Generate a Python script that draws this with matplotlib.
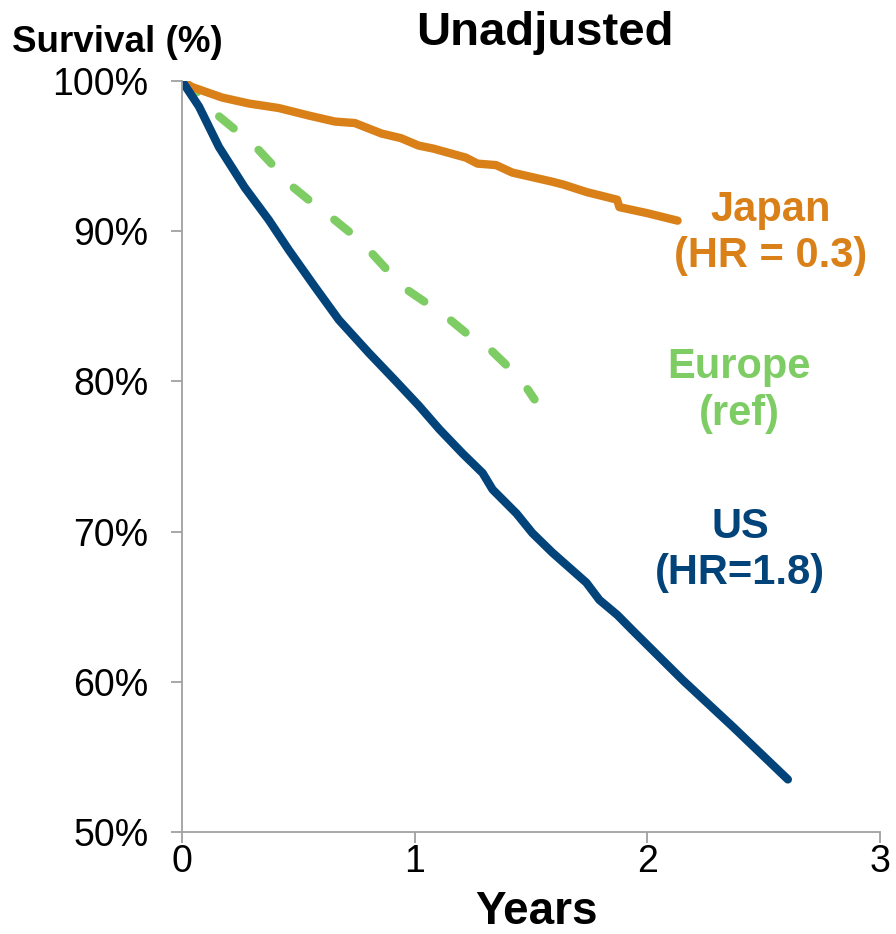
import matplotlib
matplotlib.use('Agg')
import matplotlib.pyplot as plt

plt.rcParams['font.family'] = ['Liberation Sans', 'DejaVu Sans']

# Kaplan-Meier style curves (years, survival %)
japan_years = [0, 0.043, 0.172, 0.288, 0.416, 0.545, 0.657, 0.743, 0.858, 0.94, 1.017, 1.08,
               1.22, 1.27, 1.35, 1.42, 1.59, 1.64, 1.74, 1.87, 1.88, 2.0, 2.13]
japan_surv = [100, 99.6, 98.9, 98.5, 98.2, 97.7, 97.3, 97.2, 96.5, 96.2, 95.7, 95.5,
              94.9, 94.5, 94.4, 93.9, 93.3, 93.1, 92.6, 92.1, 91.6, 91.2, 90.7]

europe_years = [0, 0.07, 0.155, 0.249, 0.33, 0.408, 0.48, 0.575, 0.66, 0.747, 0.794,
                0.871, 0.948, 1.043, 1.137, 1.223, 1.32, 1.40, 1.48, 1.515]
europe_surv = [100, 99.2, 97.7, 96.5, 95.4, 94.1, 92.9, 91.7, 90.7, 89.6, 88.9,
               87.6, 86.3, 85.3, 84.3, 83.2, 82.2, 81.0, 79.6, 78.8]

us_years = [0, 0.073, 0.159, 0.27, 0.373, 0.459, 0.571, 0.674, 0.803, 0.914, 1.017, 1.107,
            1.206, 1.292, 1.335, 1.438, 1.506, 1.592, 1.738, 1.794, 1.871, 1.938, 2.153,
            2.368, 2.604]
us_surv = [100, 98.3, 95.6, 92.9, 90.75, 88.75, 86.3, 84.1, 81.9, 80.1, 78.4, 76.8,
           75.2, 73.9, 72.8, 71.2, 69.9, 68.6, 66.6, 65.45, 64.45, 63.4, 60.1,
           57.0, 53.5]

x_ticks = [0, 1, 2, 3]
y_ticks = [50, 60, 70, 80, 90, 100]
y_tick_labels = [f'{v}%' for v in y_ticks]

c_japan = '#D98019'
c_europe = '#7ECC64'
c_us = '#02437A'
c_axis = '#A0A0A0'

fig = plt.figure(figsize=(8.96, 9.34), dpi=100)
ax = fig.add_axes([182 / 896, 1 - 832 / 934, (880 - 182) / 896, (832 - 81) / 934])

ax.plot(europe_years, europe_surv, color=c_europe, lw=6.0,
        linestyle=(0, (2.25, 3.95)), dash_capstyle='round', solid_capstyle='round')
ax.plot(japan_years, japan_surv, color=c_japan, lw=6.0, solid_capstyle='round',
        solid_joinstyle='round')
ax.plot(us_years, us_surv, color=c_us, lw=6.0, solid_capstyle='round',
        solid_joinstyle='round')

ax.set_xlim(0, 3)
ax.set_ylim(50, 100)
ax.set_xticks(x_ticks)
ax.set_yticks(y_ticks)
ax.set_yticklabels(y_tick_labels)

for s in ['top', 'right']:
    ax.spines[s].set_visible(False)
for s in ['left', 'bottom']:
    ax.spines[s].set_color(c_axis)
    ax.spines[s].set_linewidth(1.3)

ax.tick_params(axis='both', colors=c_axis, width=1.3, length=8, direction='out',
               labelcolor='black', labelsize=27)
ax.tick_params(axis='y', pad=16)
ax.tick_params(axis='x', pad=1)

# series labels
ax.text(2.53, 89.9, 'Japan\n(HR = 0.3)', color=c_japan, fontsize=30, fontweight='bold',
        ha='center', va='center', linespacing=1.2)
ax.text(2.395, 79.4, 'Europe\n(ref)', color=c_europe, fontsize=30, fontweight='bold',
        ha='center', va='center', linespacing=1.2)
ax.text(2.40, 68.8, 'US\n(HR=1.8)', color=c_us, fontsize=30, fontweight='bold',
        ha='center', va='center', linespacing=1.2)

fig.text(545 / 896, 1 - 33 / 934, 'Unadjusted', fontsize=34, fontweight='bold',
         ha='center', va='center')
fig.text(12 / 896, 1 - 42 / 934, 'Survival (%)', fontsize=26.5, fontweight='bold',
         ha='left', va='center')
fig.text(537 / 896, 1 - 912 / 934, 'Years', fontsize=33, fontweight='bold',
         ha='center', va='center')

plt.savefig('out.png', dpi=100)
